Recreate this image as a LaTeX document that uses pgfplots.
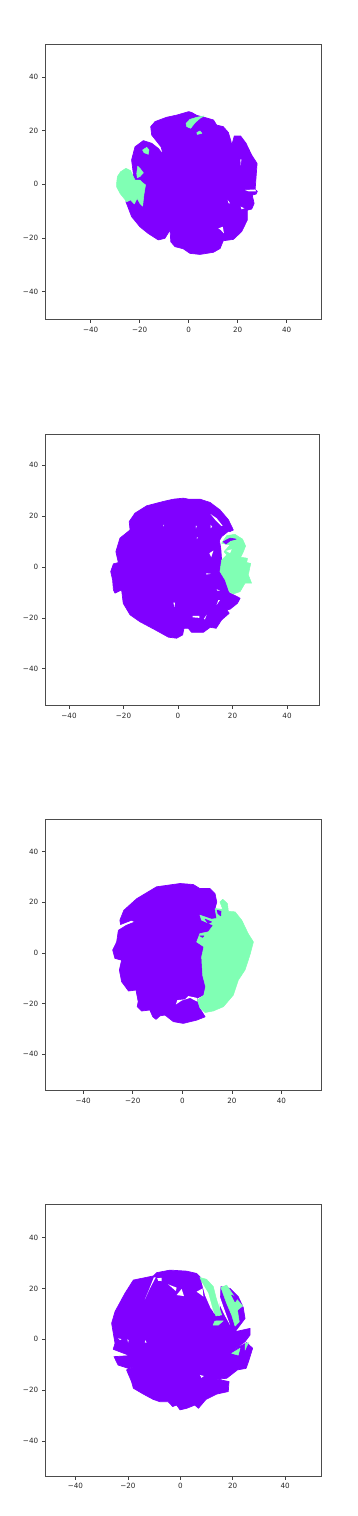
\documentclass[border=0pt]{standalone}
\usepackage{fontspec}
\setmainfont{DejaVu Sans}
\usepackage{pgfplots}
\pgfplotsset{compat=1.18}
\definecolor{pur}{HTML}{8000FF}
\definecolor{grn}{HTML}{80FFB4}
\pgfplotsset{
  panel/.style={
    scale only axis, anchor=north west, clip=true,
    axis line style={color=black!70, line width=0.8pt},
    tick style={color=black!75, line width=0.6pt},
    major tick length=3.2pt,
    tick align=outside, xtick pos=bottom, ytick pos=left,
    xtick={-40,-20,0,20,40}, ytick={-40,-20,0,20,40},
    xticklabels={−40,−20,0,20,40}, yticklabels={−40,−20,0,20,40},
    tick label style={font=\fontsize{7.2}{9}\selectfont, color=black!85},
    xticklabel style={yshift=-0.6pt}, yticklabel style={xshift=-0.4pt},
  },
  P/.style={draw=pur, fill=pur, line join=round, line width=0.7pt},
  G/.style={draw=grn, fill=grn, line join=round, line width=0.5pt},
  W/.style={draw=none, fill=white},
}
\begin{document}
\begin{tikzpicture}[x=1pt,y=1pt]
\path[use as bounding box] (0,0) rectangle (357,1516);

%---------------- panel 1
\begin{axis}[panel, at={(45.3pt,1472pt)}, width=276pt, height=275.4pt,
  xmin=-58.5, xmax=54.1, ymin=-50.3, ymax=52.3]
\addplot[P] coordinates {(0,27.1)(1.2,26.8)(3.3,25.7)(6.3,25)(10.1,24)(11.4,22.1)(14.1,21.5)(16.2,19.3)(17.3,15.9)(17.6,13.4)(16.2,11.6)(17.6,14.7)(18.6,18)(21.2,18)(23.4,15.3)(25.7,10.9)(27.9,7.8)(27.5,2.9)(27.1,-1.9)(28,-2.6)(27.5,-3.6)(25.9,-4)(26.7,-7.1)(25.7,-9.2)(23.9,-9.6)(23.9,-13.3)(21.6,-17.6)(18.2,-20.5)(14.1,-21)(12.8,-23.9)(10.1,-25.3)(4.6,-26.1)(0.5,-25.7)(-2.2,-24)(-5.6,-23.2)(-7.3,-21.4)(-7.6,-17)(-9.7,-20.1)(-12.4,-20.7)(-16.5,-18.3)(-19.9,-15.8)(-23.3,-12)(-25.6,-6.5)(-23.3,-2.1)(-22.6,4.1)(-23.3,9.1)(-21.9,14)(-18.5,16.3)(-15.1,15.3)(-12.4,13.4)(-10.3,10.9)(-11.3,14)(-15.1,18.4)(-15.5,21.5)(-13.7,23.4)(-9,25)(-4.9,25.8)} --cycle;
\addplot[G] coordinates {(-29.4,0.4)(-29.1,2.9)(-27.8,4.7)(-25.6,6)(-23.7,5.1)(-22.6,2.9)(-21.9,1.6)(-19.9,1.6)(-18.8,0.6)(-17.6,-0.2)(-18.2,-3.4)(-18.8,-8.1)(-19.9,-7.1)(-21,-5.2)(-22.2,-7.3)(-23.7,-5.8)(-25.3,-6.5)(-26.4,-5.2)(-28,-3.4)(-29.4,-0.9)} --cycle;
\addplot[G] coordinates {(-21.2,4.1)(-20.8,6.8)(-19.9,6)(-18.5,4.3)(-19.9,2.9)(-21,2.5)} --cycle;
\addplot[G] coordinates {(-18.8,12.8)(-17.1,13.8)(-16.2,12.8)(-16.5,11.2)(-18.2,11.8)} --cycle;
\addplot[G] coordinates {(-1.1,22.7)(0.5,24.2)(3.3,25)(6.3,25.5)(4.6,24.6)(2.6,23)(0.8,20.9)(-0.8,21.5)} --cycle;
\addplot[G] coordinates {(3.3,19.3)(4.6,19.9)(5.4,19)(3.5,18.6)} --cycle;
\addplot[W] coordinates {(23,-2.1)(27.1,-1.9)(27.5,-2.6)(24.4,-2.6)} --cycle;
\addplot[W] coordinates {(12.1,-16.4)(13.9,-15.8)(14.4,-18.3)(13.1,-17)} --cycle;
\addplot[W] coordinates {(21.1,9.3)(21.5,9.3)(21.2,7)} --cycle;
\addplot[W] coordinates {(21.2,-8.3)(22.7,-8.9)(21.6,-9.3)} --cycle;
\addplot[W] coordinates {(15.9,-5.8)(16.9,-7.1)(16.3,-7.1)} --cycle;
\end{axis}

%---------------- panel 2
\begin{axis}[panel, at={(45.3pt,1082pt)}, width=274.4pt, height=271.7pt,
  xmin=-48.7, xmax=52, ymin=-54.5, ymax=52.2]
\addplot[P] coordinates {(2,27)(3.8,26.6)(8.1,26.6)(11.8,25.3)(15.4,22.4)(18.5,18.5)(20.3,14.5)(19.1,13.9)(18.5,14)(16,11.9)(15.2,10.3)(15.7,7.3)(16,2.7)(15.4,-1.8)(17.3,-5.1)(18.8,-10.1)(22.8,-12.3)(21.8,-14.3)(19.1,-16.6)(17.9,-16.9)(18.8,-18.2)(16,-20.8)(14,-24.1)(11.8,-23.7)(9.3,-25.7)(5,-25.7)(3.8,-24.1)(2.2,-24.1)(1.7,-26.7)(-0.5,-28)(-3.5,-27.6)(-8.4,-24.7)(-14,-21.5)(-17.6,-18.8)(-20.1,-14.3)(-20.7,-9)(-23.1,-10.3)(-23.7,-9)(-24,-5.1)(-24.7,-1.8)(-23.7,1.2)(-21.9,1.7)(-22.8,6)(-21.3,11.3)(-17.6,14.5)(-17.9,17.8)(-15.8,21.1)(-11.5,24)(-5.4,25.7)(-1.7,26.6)} --cycle;
\addplot[G] coordinates {(16,9.3)(17.9,12.3)(20.9,12.8)(23.7,10.9)(24.8,8.2)(24,6)(23,3.8)(25.5,3.4)(25.2,1.7)(26.7,1.4)(25.8,-3.1)(27,-6.4)(24.6,-6.4)(22.8,-9.7)(20.3,-10.6)(18.8,-9.7)(17.3,-5.1)(15.4,-1.8)(16,2.7)(17.9,4.7)(16.9,6)(19.1,8.6)} --cycle;
\addplot[P] coordinates {(16.6,9.9)(19.1,11.3)(21.3,10.9)(19.1,10.3)(17.6,9)} --cycle;
\addplot[W] coordinates {(17.6,6.3)(19.7,6.9)(19.1,5.4)} --cycle;
\addplot[W] coordinates {(11.5,5.4)(13,6.4)(12.2,3.8)} --cycle;
\addplot[W] coordinates {(12,20.7)(14.2,19.1)(16.4,16.1)(15.9,16.1)(13.5,18.7)} --cycle;
\addplot[W] coordinates {(5.4,-19.2)(7.8,-19.2)(7.8,-20)(5.4,-19.8)} --cycle;
\addplot[W] coordinates {(9.5,-20.4)(10.5,-18.8)(9.9,-20.6)} --cycle;
\addplot[W] coordinates {(-1.7,-14)(-1.1,-14)(-1.3,-15.8)} --cycle;
\addplot[W] coordinates {(6.5,16.1)(6.9,16.1)(6.6,15.1)} --cycle;
\addplot[W] coordinates {(-5.4,16.5)(-5.1,16.5)(-5.4,15.8)} --cycle;
\addplot[W] coordinates {(12,16.5)(12.5,15.8)(12,15.2)} --cycle;
\addplot[W] coordinates {(6.9,11.6)(7.3,11.6)(6.9,10.9)} --cycle;
\addplot[W] coordinates {(14.2,-8.8)(15.4,-9.3)(14.4,-9.3)} --cycle;
\addplot[W] coordinates {(14.8,-13)(15.4,-13)(14.2,-14.9)} --cycle;
\addplot[W] coordinates {(10.3,-2.5)(12,-2.7)(10.5,-3)} --cycle;
\end{axis}

%---------------- panel 3
\begin{axis}[panel, at={(45.3pt,697pt)}, width=276pt, height=271.7pt,
  xmin=-55.3, xmax=56.1, ymin=-54.5, ymax=52.9]
\addplot[P] coordinates {(-0.9,27.4)(4.4,27)(7.1,25.4)(11.2,25.4)(13.2,23.4)(13.9,20.1)(13.2,17.5)(16.6,12.2)(9.8,3)(7.8,-1.6)(8.2,-8.8)(9.4,-13.4)(8.5,-16.7)(5.8,-18)(7.1,-22)(9.2,-25.3)(5.8,-26.6)(0.4,-27.9)(-3.6,-27.2)(-7,-24.6)(-9,-24.9)(-10.6,-26.3)(-11.9,-25.3)(-13.1,-22.6)(-16.4,-23)(-18.2,-21.3)(-17.8,-19.3)(-18.7,-14.7)(-21.7,-15.1)(-24.5,-11.4)(-25.4,-6.8)(-24.5,-2.9)(-27.2,-2.2)(-28.1,1.1)(-26.5,4.3)(-25.8,8.9)(-22.5,10.9)(-19.1,12.2)(-20.5,12.9)(-24.9,11.2)(-25.2,12.9)(-23.6,16.8)(-18.4,21.4)(-10.4,26.1)} --cycle;
\addplot[W] coordinates {(-2.6,-20.4)(-2,-18.7)(1.1,-18.4)(2.4,-17.1)(5.8,-17.8)(6.1,-19.3)(3.1,-17.8)(-0.3,-18.9)} --cycle;
\addplot[G] coordinates {(15.2,20.1)(16.3,21.2)(18.2,19.5)(18.6,16.4)(21.3,16.2)(24,12.9)(26.6,7.6)(28.7,4.3)(27.3,-0.9)(25.3,-6.8)(22.6,-10.8)(20.6,-16.7)(16.6,-21.3)(12.5,-23)(9.2,-23.6)(7.1,-21.7)(6.1,-18.7)(8.7,-16.7)(9.4,-13.4)(8.2,-8.8)(7.8,-1.6)(8.7,2.4)(5.8,4.3)(7.1,7.6)(10.5,8.3)(12.5,10.9)(7.8,12.9)(7.1,14.9)(11.8,13.3)(13.9,13.6)(13.2,17.5)(16.3,17.2)} --cycle;
\addplot[P] coordinates {(14.1,16.8)(15.6,16.4)(15.5,14.6)(14.4,15.5)} --cycle;
\addplot[P] coordinates {(9.2,13.3)(11.8,12.2)(10.5,11.6)} --cycle;
\addplot[P] coordinates {(7.1,6.7)(8.7,6.7)(8.2,6.1)} --cycle;
\end{axis}

%---------------- panel 4
\begin{axis}[panel, at={(45.3pt,311.3pt)}, width=276pt, height=271.6pt,
  xmin=-51.5, xmax=53.8, ymin=-53.8, ymax=52.9]
\addplot[P] coordinates {(-3.9,27.2)(2.4,26.8)(6.2,25.9)(7.5,24.6)(8.8,20.7)(10.7,16.8)(12.6,10.2)(15.1,8.9)(15.5,20.7)(19,20)(22.1,16.8)(24,12.6)(24.7,8.2)(20.9,3)(26.6,4.3)(26.6,1.7)(24.7,-0.9)(19,-5.2)(25.3,-1.3)(27.6,-3.5)(26,-8.8)(25.1,-11.4)(21.8,-12)(17.7,-15.3)(13.9,-15.6)(18.6,-16.6)(18.3,-20.5)(13.9,-21.5)(9.8,-23.6)(6.9,-27.1)(5.6,-25.8)(2.4,-27.1)(-0.1,-27.7)(-1.4,-25.8)(-2.9,-26.4)(-4.6,-24.5)(-7.8,-24.5)(-10.3,-23.6)(-14.1,-21.5)(-17.9,-19.2)(-18.6,-16.6)(-20.5,-12)(-16,-10.1)(-19.8,-11.4)(-23.7,-10.1)(-25.3,-6.8)(-19.2,-6.4)(-25.6,-3.9)(-24.9,-1.6)(-26.2,6.3)(-24.9,10.9)(-21.1,18.1)(-17.9,23.3)(-10.3,24.9)(-9,26.2)} --cycle;
\addplot[G] coordinates {(7.5,24.3)(10,23.6)(12.6,20.7)(13.9,15.4)(15.8,9.6)(13.6,9.2)(11.6,14.1)(9.5,19.4)} --cycle;
\addplot[G] coordinates {(15.5,20.4)(17.7,21.3)(20.2,17.4)(23.8,13.1)(21.8,11.5)(22.5,6.9)(20.9,5.2)(19.6,9.6)(17.7,14.1)} --cycle;
\addplot[G] coordinates {(12.5,5.6)(13.2,7.2)(16.4,7.3)(14.5,5.6)} --cycle;
\addplot[G] coordinates {(19.6,-5.5)(22.8,-3.5)(22.1,-6.2)} --cycle;
\addplot[G] coordinates {(24.8,-1.6)(26,-1.3)(24.7,-4.2)} --cycle;
\addplot[P] coordinates {(19.6,17.4)(21.8,16.1)(20.9,14.8)} --cycle;
\addplot[W] coordinates {(14.7,18.1)(16.2,13.5)(19,5.6)(16.7,9.9)(15.1,13.5)} --cycle;
\addplot[W] coordinates {(8.1,22.6)(10.7,18.1)(12.6,10.9)(11.6,12.2)(9.4,17.4)} --cycle;
\addplot[W] coordinates {(-10.1,24.3)(-9.4,24.3)(-11.6,20)(-13.5,15.7)(-12,19.4)} --cycle;
\addplot[W] coordinates {(-8.8,24)(-7.1,24.2)(-7.1,22.9)(-8.4,23)} --cycle;
\addplot[W] coordinates {(-4.6,21.6)(-1.4,20.3)(-1.7,19)} --cycle;
\addplot[W] coordinates {(-1.4,17.4)(0.5,19.8)(1.4,17)} --cycle;
\addplot[W] coordinates {(6.2,18.7)(8.5,20)(8.8,16.8)(7.5,17.8)} --cycle;
\addplot[W] coordinates {(7.5,-14)(9,-14.4)(8.1,-15.1)} --cycle;
\addplot[W] coordinates {(-23.7,0.4)(-22.4,0.1)(-23,-0.3)} --cycle;
\addplot[W] coordinates {(-20.2,0)(-19.7,-0.3)(-19.9,-1.3)} --cycle;
\addplot[W] coordinates {(-13.4,-0.3)(-12.8,-1.3)(-13.5,-1.3)} --cycle;
\end{axis}
\end{tikzpicture}
\end{document}
